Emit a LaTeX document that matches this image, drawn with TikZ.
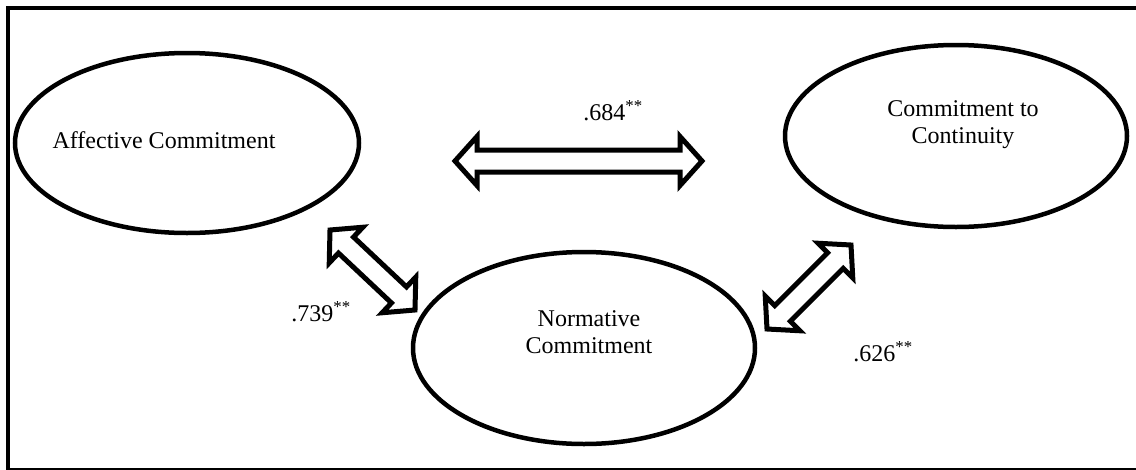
\documentclass[tikz,border=0pt]{standalone}
\usepackage{fontspec}
\setmainfont{Liberation Serif}
\usetikzlibrary{shapes.geometric,calc}
\tikzset{
  ell/.style={ellipse, draw, line width=4.5pt, inner sep=0pt},
  lbl/.style={font=\fontsize{24}{27}\selectfont, align=center, inner sep=0pt},
  darrow/.style={draw, line width=5pt, line join=miter, miter limit=10, fill=white},
}
\newcommand{\dblarrow}[2]{%
  \draw[darrow] (#1)
   -- ($(#1)!22pt!(#2)!24.5pt!90:(#2)$)
   -- ($(#1)!22pt!(#2)!11pt!90:(#2)$)
   -- ($(#2)!22pt!(#1)!11pt!-90:(#1)$)
   -- ($(#2)!22pt!(#1)!24.5pt!-90:(#1)$)
   -- (#2)
   -- ($(#2)!22pt!(#1)!24.5pt!90:(#1)$)
   -- ($(#2)!22pt!(#1)!11pt!90:(#1)$)
   -- ($(#1)!22pt!(#2)!11pt!-90:(#2)$)
   -- ($(#1)!22pt!(#2)!24.5pt!-90:(#2)$)
   -- cycle;}
\begin{document}
\begin{tikzpicture}[x=1pt,y=-1pt]
\useasboundingbox (0,0) rectangle (1136,469);
\begin{scope}
\clip (0,0) rectangle (1136,469);
\draw[line width=4.5pt] (8,8) rectangle (1142,470);
\end{scope}
% ellipses
\node[ell, minimum width=344pt, minimum height=180pt] (aff) at (187,143) {};
\node[ell, minimum width=342pt, minimum height=182pt] (cont) at (956,136) {};
\node[ell, minimum width=342pt, minimum height=192pt] (norm) at (584,348) {};
% texts
\node[lbl] (afft) at (164,140) {Affective Commitment};
\node[lbl] (contt) at (963,125) {Commitment to\\Continuity};
\node[lbl] (normt) at (589,332) {Normative\\Commitment};
% arrows
\coordinate (hA) at (455,161);
\coordinate (hB) at (702,161);
\coordinate (dA) at (330,230);
\coordinate (dB) at (415,310);
\coordinate (eA) at (767,329);
\coordinate (eB) at (851,245);
\dblarrow{hA}{hB}
\dblarrow{dA}{dB}
\dblarrow{eA}{eB}
% coefficient labels
\node[lbl] (l1) at (613,111) {.684\textsuperscript{**}};
\node[lbl] (l2) at (321,312) {.739\textsuperscript{**}};
\node[lbl] (l3) at (883,352) {.626\textsuperscript{**}};
\end{tikzpicture}
\end{document}
